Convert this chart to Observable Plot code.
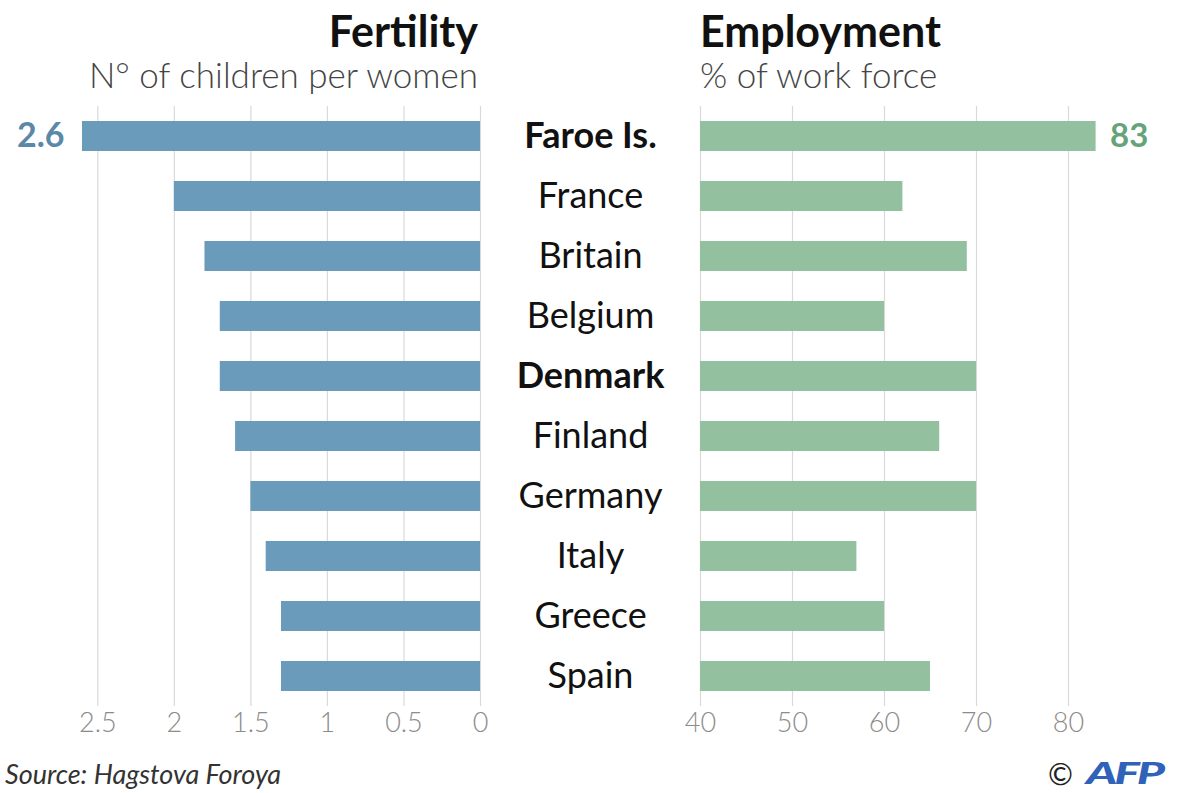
<!DOCTYPE html>
<html>
<head>
<meta charset="utf-8">
<script src="https://cdn.jsdelivr.net/npm/d3@7"></script>
<script src="https://cdn.jsdelivr.net/npm/@observablehq/plot@0.6"></script>
<style>
  html, body { margin: 0; padding: 0; background: #fff; }
  #wrap { position: relative; width: 1177px; height: 793px; overflow: hidden; font-family: Lato, "Open Sans", sans-serif; }
  #wrap svg { position: absolute; top: 0; overflow: visible; }
  .t { position: absolute; white-space: nowrap; line-height: 1.15; }
  .title { font-weight: 700; font-size: 43px; color: #111; top: 6px; }
  .sub { font-weight: 300; font-size: 35px; color: #444; top: 54px; }
</style>
</head>
<body>
<div id="wrap">
  <div class="t title" style="right:699px;">Fertility</div>
  <div class="t sub" style="right:699px;">N° of children per women</div>
  <div class="t title" style="left:700px;">Employment</div>
  <div class="t sub" style="left:700px;">% of work force</div>
  <div class="t" style="left:5px; top:758px; font-size:27px; font-style:italic; color:#333;">Source: Hagstova Foroya</div>
  <div class="t" style="left:1048px; top:756px; font-size:30px; color:#222;">©</div>
  <div class="t" style="left:1086px; top:755px; font-size:30px; color:#2f62b8; font-weight:900; font-style:italic; transform: scaleX(1.6); transform-origin: left center; letter-spacing:-2px;">AFP</div>
</div>
<script>
const countries = ["Faroe Is.", "France", "Britain", "Belgium", "Denmark", "Finland", "Germany", "Italy", "Greece", "Spain"];
const fertility = [2.6, 2.0, 1.8, 1.7, 1.7, 1.6, 1.5, 1.4, 1.3, 1.3];
const employment = [83, 62, 69, 60, 70, 66, 70, 57, 60, 65];
const boldCountries = ["Faroe Is.", "Denmark"];
const highlighted = ["Faroe Is."];
const fertilityTicks = [0, 0.5, 1, 1.5, 2, 2.5];
const employmentTicks = [40, 50, 60, 70, 80];

const rows = countries.map((c, i) => ({country: c, fertility: fertility[i], employment: employment[i]}));

const blue = "#6b9bbb";
const blueText = "#5a88a8";
const green = "#93c19f";
const greenText = "#66a27a";
const font = "Lato, 'Open Sans', sans-serif";

const yScale = {domain: countries, paddingInner: 0.5, paddingOuter: 0.25, axis: null};

const left = Plot.plot({
  width: 590, height: 793,
  marginLeft: 82, marginRight: 110, marginTop: 106, marginBottom: 87,
  style: {fontFamily: font, background: "transparent"},
  x: {domain: [0, 2.6], reverse: true, axis: null},
  y: yScale,
  marks: [
    Plot.gridX(fertilityTicks, {stroke: "#d9d9d9", strokeOpacity: 1, strokeWidth: 1.2}),
    Plot.barX(rows, {x: "fertility", y: "country", fill: blue}),
    Plot.axisX({ticks: fertilityTicks, tickSize: 0, tickPadding: 6, tickFormat: d => String(d), fontSize: 27, fill: "#8c8c8c", fontWeight: 300, anchor: "bottom", label: null}),
    Plot.text(rows.filter(d => highlighted.includes(d.country)), {x: "fertility", y: "country", text: d => d.fertility.toFixed(1), textAnchor: "end", dx: -18, fontSize: 34, fontWeight: 700, fill: blueText})
  ]
});
left.style.left = "0px";

const right = Plot.plot({
  width: 587, height: 793,
  marginLeft: 110, marginRight: 81.4, marginTop: 106, marginBottom: 87,
  style: {fontFamily: font, background: "transparent"},
  x: {domain: [40, 83], axis: null},
  y: yScale,
  marks: [
    Plot.gridX(employmentTicks, {stroke: "#d9d9d9", strokeOpacity: 1, strokeWidth: 1.2}),
    Plot.barX(rows, {x1: 40, x2: "employment", y: "country", fill: green}),
    Plot.axisX({ticks: employmentTicks, tickSize: 0, tickPadding: 6, tickFormat: d => String(d), fontSize: 27, fill: "#8c8c8c", fontWeight: 300, anchor: "bottom", label: null}),
    Plot.text(rows.filter(d => highlighted.includes(d.country)), {x: "employment", y: "country", text: d => String(d.employment), textAnchor: "start", dx: 14, fontSize: 33, fontWeight: 700, fill: greenText}),
    Plot.text(rows.filter(d => !boldCountries.includes(d.country)), {x: () => 40, y: "country", text: "country", textAnchor: "middle", dx: -110, fontSize: 36, fill: "#111"}),
    Plot.text(rows.filter(d => boldCountries.includes(d.country)), {x: () => 40, y: "country", text: "country", textAnchor: "middle", dx: -110, fontSize: 36, fontWeight: 700, fill: "#111"})
  ]
});
right.style.left = "590px";

const wrap = document.getElementById("wrap");
wrap.appendChild(left);
wrap.appendChild(right);
</script>
</body>
</html>
